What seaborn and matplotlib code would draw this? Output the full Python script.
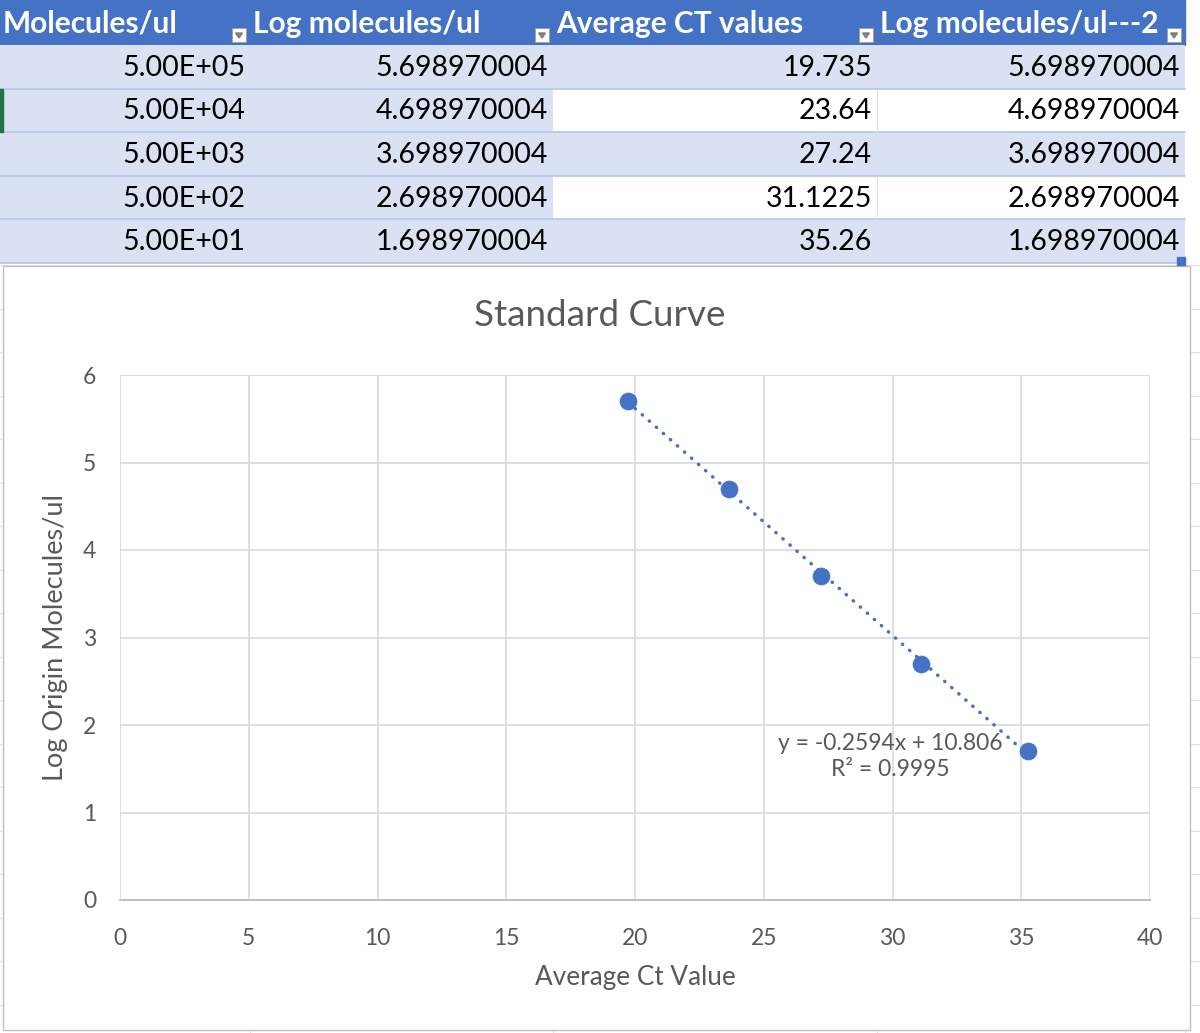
import numpy as np
import pandas as pd
import matplotlib
matplotlib.use("Agg")
import matplotlib.pyplot as plt
from matplotlib.patches import Rectangle, Polygon
import seaborn as sns

# ---------------- data ----------------
headers = ["Molecules/ul", "Log molecules/ul", "Average CT values", "Log molecules/ul---2"]
molecules_lbl = ["5.00E+05", "5.00E+04", "5.00E+03", "5.00E+02", "5.00E+01"]
log_molecules = [5.698970004, 4.698970004, 3.698970004, 2.698970004, 1.698970004]
avg_ct = [19.735, 23.64, 27.24, 31.1225, 35.26]
avg_ct_lbl = ["19.735", "23.64", "27.24", "31.1225", "35.26"]
log_molecules_2 = [5.698970004, 4.698970004, 3.698970004, 2.698970004, 1.698970004]
x_ticks = [0, 5, 10, 15, 20, 25, 30, 35, 40]
y_ticks = [0, 1, 2, 3, 4, 5, 6]
title = "Standard Curve"
x_label = "Average Ct Value"
y_label = "Log Origin Molecules/ul"
eq_text = "y = -0.2594x + 10.806\nR\u00b2 = 0.9995"

df = pd.DataFrame({"ct": avg_ct, "logm": log_molecules_2})

sns.set_theme(style="white")
plt.rcParams['font.family'] = ['Lato', 'DejaVu Sans']

W, H = 1200, 1033
fig = plt.figure(figsize=(W / 100, H / 100), dpi=100)
fig.patch.set_facecolor("white")

# ---------------- spreadsheet background & table ----------------
bg = fig.add_axes([0, 0, 1, 1])
bg.set_xlim(0, W)
bg.set_ylim(H, 0)
bg.axis("off")

# faint sheet gridlines visible outside chart
for yy in np.arange(265, H, 43.5):
    bg.plot([0, W], [yy, yy], color="#E1E1E1", lw=0.8, zorder=0)
for xx in [250, 553, 877, 1185]:
    bg.plot([xx, xx], [265, H], color="#E1E1E1", lw=0.8, zorder=0)

col_edges = [0, 250, 553, 877, 1185]
row_h = 43.6
head_h = 45
blue = "#4472C4"
light = "#D9E1F2"

# header
bg.add_patch(Rectangle((0, 0), 1185, head_h, color=blue, zorder=1))
for i, h in enumerate(headers):
    bg.text(col_edges[i] + 3, head_h / 2 + 1, h, color="white", fontsize=21.5,
            fontweight="bold", ha="left", va="center", zorder=3)
    bx = col_edges[i + 1] - 18
    bg.add_patch(Rectangle((bx, 28), 14, 14, facecolor="white", edgecolor="#A0A0A0",
                           lw=0.6, zorder=3))
    bg.add_patch(Polygon([[bx + 3.5, 33], [bx + 10.5, 33], [bx + 7, 38]],
                         closed=True, color="#7F7F7F", zorder=4))

cols_text = [molecules_lbl,
             ["%.9f" % v for v in log_molecules],
             avg_ct_lbl,
             ["%.9f" % v for v in log_molecules_2]]
for r in range(5):
    y0 = head_h + r * row_h
    for c in range(4):
        shaded = (r % 2 == 0) or c < 2
        fc = light if shaded else "white"
        bg.add_patch(Rectangle((col_edges[c], y0), col_edges[c + 1] - col_edges[c], row_h,
                               facecolor=fc, edgecolor="none", zorder=1))
        bg.text(col_edges[c + 1] - 5, y0 + row_h / 2 + 1, cols_text[c][r], color="black",
                fontsize=20.5, ha="right", va="center", zorder=3)
    bg.plot([0, 1185], [y0 + row_h, y0 + row_h], color="#B4C6E7", lw=1.2, zorder=2)
    if r % 2 == 1:
        bg.plot([877, 877], [y0, y0 + row_h], color="#E1E1E1", lw=0.8, zorder=2)
# selection marker
bg.add_patch(Rectangle((0, head_h + row_h), 2.5, row_h, color="#217346", zorder=3))
bg.add_patch(Rectangle((1177, head_h + 5 * row_h - 6), 8, 8, color=blue, zorder=4))

# chart frame
bg.add_patch(Rectangle((3, 266), 1187, 764, facecolor="white", edgecolor="#BFBFBF",
                       lw=1.0, zorder=2))

# ---------------- chart ----------------
x0p, x1p, y0p, y1p = 120, 1150, 900, 375
ax = fig.add_axes([x0p / W, 1 - y0p / H, (x1p - x0p) / W, (y0p - y1p) / H])
ax.set_zorder(5)
ax.patch.set_alpha(0)

sns.regplot(data=df, x="ct", y="logm", ax=ax, scatter=False, ci=None, truncate=True,
            line_kws=dict(color=blue, linestyle=(0, (0.1, 2.6)), lw=2.5,
                          solid_capstyle="round", dash_capstyle="round", zorder=3))
sns.scatterplot(data=df, x="ct", y="logm", ax=ax, color=blue, s=150, edgecolor=blue,
                linewidth=0.5, zorder=4)

ax.set_xlim(0, 40)
ax.set_ylim(0, 6)
ax.set_xticks(x_ticks)
ax.set_yticks(y_ticks)
ax.grid(True, color="#D9D9D9", lw=1.2)
ax.set_axisbelow(True)
for s in ["top", "right", "left"]:
    ax.spines[s].set_visible(False)
ax.spines["bottom"].set_color("#BFBFBF")
ax.spines["bottom"].set_linewidth(1.4)
ax.tick_params(axis="both", length=0, labelsize=16.5, labelcolor="#595959")
ax.tick_params(axis="x", pad=20)
ax.tick_params(axis="y", pad=17)
ax.set_xlabel(x_label, fontsize=18.8, color="#595959", labelpad=12)
ax.set_ylabel(y_label, fontsize=19.5, color="#595959", labelpad=11)
ax.text(29.9, 1.64, eq_text, ha="center", va="center", fontsize=16.5,
        color="#595959", linespacing=1.25, zorder=5)

fig.text(600 / W, 1 - 316 / H, title, ha="center", va="center", fontsize=26.5,
         color="#595959", zorder=6)

fig.savefig("out.png", dpi=100)
